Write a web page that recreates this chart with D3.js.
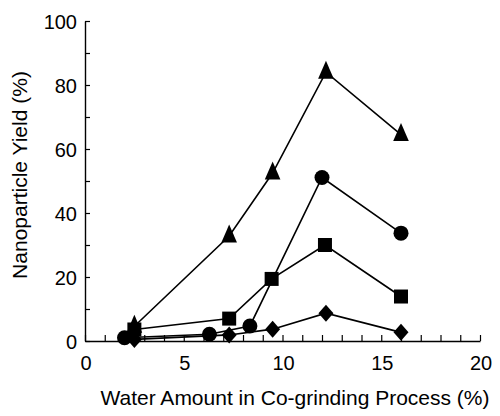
<!DOCTYPE html>
<html>
<head>
<meta charset="utf-8">
<script src="https://cdn.jsdelivr.net/npm/d3@7"></script>
<style>
  html, body { margin: 0; padding: 0; background: #fff; }
  svg { display: block; }
  text { font-family: "Liberation Sans", Arial, Helvetica, sans-serif; fill: #000; }
</style>
</head>
<body>
<svg id="chart" width="500" height="416"></svg>
<script>
// ---- data ----
const xTicks = [0, 5, 10, 15, 20];
const yTicks = [0, 20, 40, 60, 80, 100];

const triX = [2.5, 7.3, 9.5, 12.2, 16.0];
const triY = [4.6, 32.8, 52.5, 84.0, 64.5];

const circX = [2.0, 6.3, 8.35, 12.0, 16.0];
const circY = [1.0, 2.1, 4.7, 51.1, 33.7];

const sqX = [2.5, 7.3, 9.45, 12.15, 16.0];
const sqY = [3.6, 7.0, 19.4, 30.0, 13.9];

const diaX = [2.5, 7.3, 9.5, 12.2, 16.0];
const diaY = [0.5, 1.9, 3.7, 8.7, 2.7];

const xTitle = "Water Amount in Co-grinding Process (%)";
const yTitle = "Nanoparticle Yield (%)";

// ---- layout ----
const svg = d3.select("#chart");
const x = d3.scaleLinear().domain([0, 20]).range([85, 480]);
const y = d3.scaleLinear().domain([0, 100]).range([341, 21]);

// axes
const xAxis = d3.axisBottom(x).tickValues(d3.range(0, 21, 1)).tickSizeInner(-6).tickSizeOuter(0).tickFormat("");
const gx = svg.append("g").attr("transform", `translate(0,${y(0)})`).call(xAxis);
gx.select(".domain").attr("stroke", "#000").attr("stroke-width", 1.4);
gx.selectAll(".tick line").attr("stroke", "#000").attr("stroke-width", 1.2);

const yAxis = d3.axisLeft(y).tickValues(d3.range(0, 101, 10)).tickSizeInner(-5).tickSizeOuter(0).tickFormat("");
const gy = svg.append("g").attr("transform", `translate(${x(0)},0)`).call(yAxis);
gy.select(".domain").attr("stroke", "#000").attr("stroke-width", 1.4);
gy.selectAll(".tick line").attr("stroke", "#000").attr("stroke-width", 1.2);

// tick labels
svg.append("g").selectAll("text").data(xTicks).join("text")
  .attr("x", d => x(d) + 1)
  .attr("y", 370)
  .attr("text-anchor", "middle")
  .attr("font-size", 20)
  .text(d => d);

svg.append("g").selectAll("text").data(yTicks).join("text")
  .attr("x", 77)
  .attr("y", d => y(d) + 8)
  .attr("text-anchor", "end")
  .attr("font-size", 20)
  .text(d => d);

// axis titles
svg.append("text")
  .attr("x", 295)
  .attr("y", 405)
  .attr("text-anchor", "middle")
  .attr("font-size", 21)
  .text(xTitle);

svg.append("text")
  .attr("transform", `translate(27,175) rotate(-90)`)
  .attr("text-anchor", "middle")
  .attr("font-size", 21)
  .text(yTitle);

// series
const series = [
  { xs: triX, ys: triY, shape: "tri" },
  { xs: circX, ys: circY, shape: "circ" },
  { xs: sqX, ys: sqY, shape: "sq" },
  { xs: diaX, ys: diaY, shape: "dia" }
];

const line = d3.line().x(d => x(d[0])).y(d => y(d[1]));

const shapes = {
  tri: "M0,-11.5L7.8,6.5L-7.8,6.5Z",
  sq: "M-7,-7L7,-7L7,7L-7,7Z",
  dia: "M0,-8.5L7.5,0L0,8.5L-7.5,0Z"
};

series.forEach(s => {
  const pts = s.xs.map((v, i) => [v, s.ys[i]]);
  svg.append("path")
    .attr("d", line(pts))
    .attr("fill", "none")
    .attr("stroke", "#000")
    .attr("stroke-width", 1.6);
});

series.forEach(s => {
  const pts = s.xs.map((v, i) => [v, s.ys[i]]);
  const g = svg.append("g");
  if (s.shape === "circ") {
    g.selectAll("circle").data(pts).join("circle")
      .attr("cx", d => x(d[0])).attr("cy", d => y(d[1]))
      .attr("r", 7.5).attr("fill", "#000");
  } else {
    g.selectAll("path").data(pts).join("path")
      .attr("transform", d => `translate(${x(d[0])},${y(d[1])})`)
      .attr("d", shapes[s.shape]).attr("fill", "#000");
  }
});
</script>
</body>
</html>
